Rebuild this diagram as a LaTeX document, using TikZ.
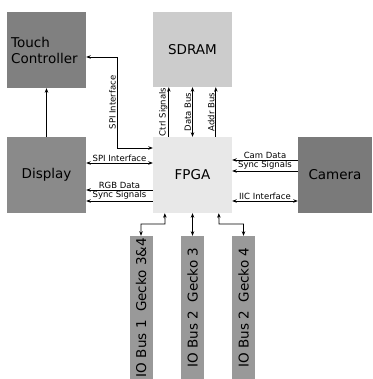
\documentclass[tikz,border=0pt]{standalone}
\usepackage{fontspec}
\setmainfont{DejaVu Sans}
\usetikzlibrary{arrows.meta}
\definecolor{touchgray}{HTML}{808080}
\definecolor{dispgray}{HTML}{8A8A8A}
\definecolor{camgray}{HTML}{7A7A7A}
\definecolor{ramgray}{HTML}{CCCCCC}
\definecolor{fpgagray}{HTML}{E8E8E8}
\definecolor{iogray}{HTML}{999999}
\begin{document}
\begin{tikzpicture}[x=1pt, y=-1pt,
    block/.style={inner sep=0pt, font=\fontsize{13.5}{16}\selectfont},
    iobox/.style={fill=iogray, minimum width=23pt, minimum height=143pt, inner sep=0pt},
    sig/.style={line width=0.8pt, >={Stealth[length=4.5pt, width=3.5pt]}},
    lbl/.style={font=\fontsize{8.5}{9}\selectfont, inner sep=1pt}]
    \useasboundingbox (0,0) rectangle (372,379);
    % Blocks
    \node[block, fill=touchgray, minimum width=79pt, minimum height=76pt] (touch) at (46.5,50) {};
    \node[block, anchor=west, align=left] at (11,50) {Touch\\Controller};
    \node[block, fill=ramgray, minimum width=79pt, minimum height=75pt] (sdram) at (192.5,49.5) {SDRAM};
    \node[block, fill=dispgray, minimum width=79pt, minimum height=76pt] (disp) at (46.5,175) {Display};
    \node[block, fill=fpgagray, minimum width=79pt, minimum height=76pt] (fpga) at (192.5,175) {FPGA};
    \node[block, fill=camgray, minimum width=74pt, minimum height=76pt] (cam) at (335,175) {Camera};
    \node[iobox] (io1) at (141,307.5) {};
    \node[iobox] (io2) at (192.5,307.5) {};
    \node[iobox] (io3) at (243.5,307.5) {};
    \node[block, rotate=90] at (io1) {IO Bus 1\ \ Gecko 3\&4};
    \node[block, rotate=90] at (io2) {IO Bus 2\ \ Gecko 3};
    \node[block, rotate=90] at (io3) {IO Bus 2\ \ Gecko 4};

    % Touch controller
    \draw[sig, ->] (disp.north) -- (touch.south);
    \coordinate (spitop) at (117,57);
    \coordinate (spibot) at (117,148);
    \draw[sig, <->] ([yshift=-7pt]touch.east) -- (spitop) -- (spibot) -- ([yshift=27pt]fpga.west);
    \path (spibot) -- (spitop) node[lbl, midway, sloped, above] {SPI Interface};

    % SDRAM
    \draw[sig, ->] ([xshift=16pt]fpga.north west) -- node[lbl, sloped, above] {Ctrl Signals} ([xshift=16pt]sdram.south west);
    \draw[sig, <->] (fpga.north) -- node[lbl, sloped, above] {Data Bus} (sdram.south);
    \draw[sig, ->] ([xshift=63pt]fpga.north west) -- node[lbl, sloped, above] {Addr Bus} ([xshift=63pt]sdram.south west);

    % Display
    \draw[sig, <->] ([yshift=12pt]fpga.west) -- node[lbl, above] {SPI Interface} ([yshift=12pt]disp.east);
    \draw[sig, ->] ([yshift=-15pt]fpga.west) -- node[lbl, above] {RGB Data} ([yshift=-15pt]disp.east);
    \draw[sig, ->] ([yshift=-26pt]fpga.west) -- node[lbl, above] {Sync Signals} ([yshift=-26pt]disp.east);

    % Camera
    \draw[sig, ->] ([yshift=15pt]cam.west) -- node[lbl, above] {Cam Data} ([yshift=15pt]fpga.east);
    \draw[sig, ->] ([yshift=4pt]cam.west) -- node[lbl, above] {Sync Signals} ([yshift=4pt]fpga.east);
    \draw[sig, <->] ([yshift=-26pt]cam.west) -- node[lbl, above] {IIC Interface} ([yshift=-26pt]fpga.east);

    % IO buses
    \coordinate (io1bend) at (165,224);
    \coordinate (io3bend) at (219,224);
    \draw[sig, <->] ([xshift=12pt]fpga.south west) -- (io1bend) -| (io1.north);
    \draw[sig, <->] (fpga.south) -- (io2.north);
    \draw[sig, <->] ([xshift=66pt]fpga.south west) -- (io3bend) -| (io3.north);
\end{tikzpicture}
\end{document}
